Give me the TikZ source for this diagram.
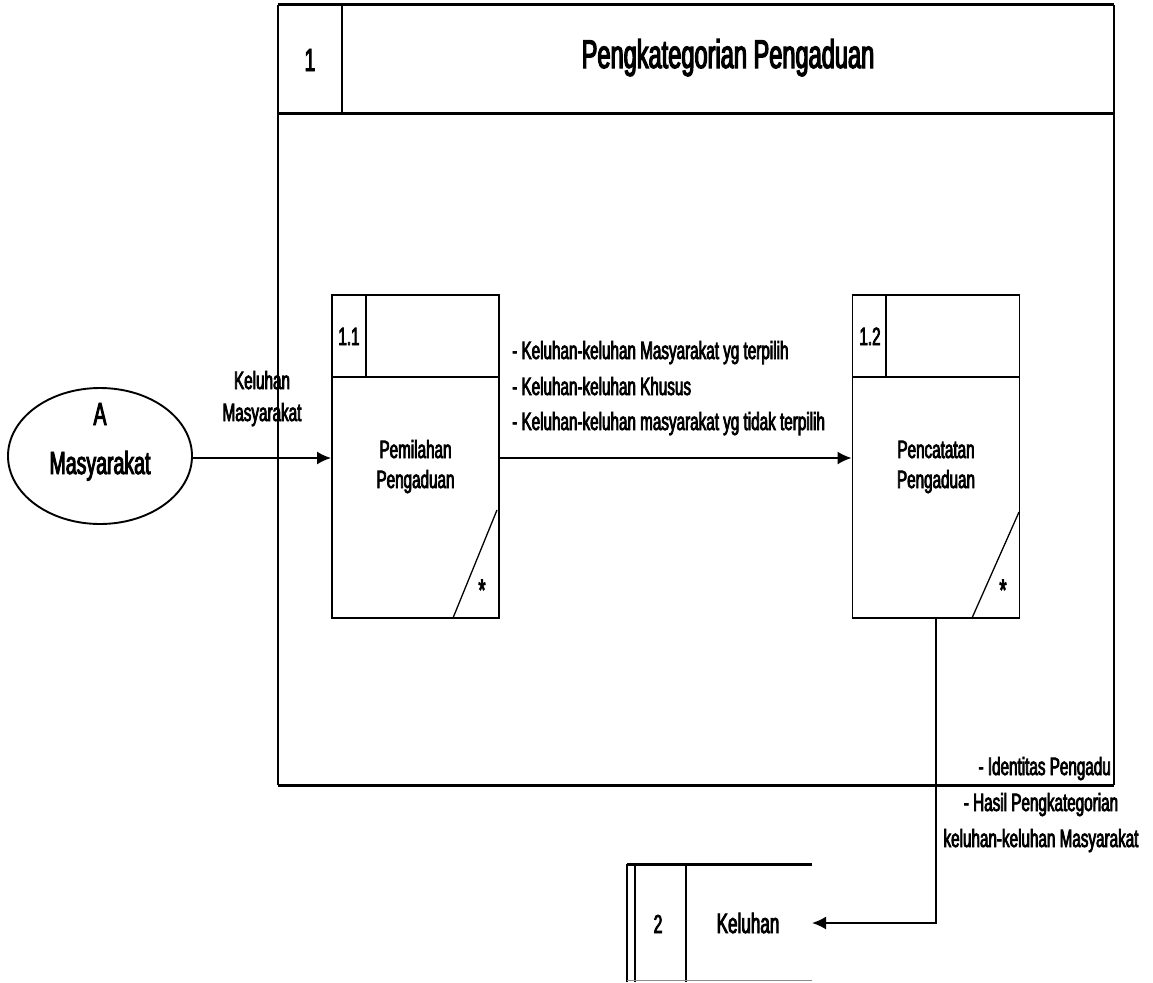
\documentclass[tikz,border=0pt]{standalone}
\usepackage{fontspec}
\setmainfont{Liberation Sans}[FakeStretch=0.61,FakeBold=3]
\newfontfamily\headfont{Liberation Sans}[FakeStretch=0.59,FakeBold=3]
\usetikzlibrary{arrows.meta,shapes.geometric,calc}
\tikzset{
  ln/.style={draw=black, line width=1.9pt},
  heavy/.style={draw=black, line width=3pt},
  flow/.style={ln, -{Latex[length=14pt,width=13pt]}},
  txt/.style={inner sep=0pt, anchor=base, font=\fontsize{25}{30}\selectfont},
  bigtxt/.style={txt, font=\fontsize{32}{38}\selectfont},
  titletxt/.style={txt, font=\headfont\fontsize{40}{46}\selectfont},
  proc/.style={ln, rectangle, minimum width=167pt, minimum height=323pt, inner sep=0pt},
  entity/.style={ln, ellipse, minimum width=184pt, minimum height=136pt, inner sep=0pt},
  star/.style={inner sep=0pt, font=\fontsize{30}{30}\selectfont}
}
\begin{document}
\begin{tikzpicture}[x=1pt,y=-1pt]
\useasboundingbox (0,0) rectangle (1153,982);

% process 1 frame with its header
\draw[ln] (278,5) -- (278,785);
\draw[ln] (1114,5) -- (1114,785);
\draw[heavy] (278,5) -- (1114,5);
\draw[heavy] (278,113) -- (1114,113);
\draw[heavy] (278,785) -- (1114,785);
\draw[ln] (342,5) -- (342,113);
\node[bigtxt] (pnum) at (310,71) {1};
\node[titletxt] (ptitle) at (728,68) {Pengkategorian Pengaduan};

% external entity
\node[entity] (ent) at (100,456) {};
\node[bigtxt] (entid) at (100,425) {A};
\node[bigtxt] (entname) at (100,474) {Masyarakat};

% sub-process 1.1
\node[proc] (p11) at (415.5,456.5) {};
\draw[ln] (332,377) -- (499,377);
\draw[ln] (366,295) -- (366,377);
\draw[line width=1.3pt] (497,510) -- (453,618);
\node[txt] (p11num) at (349,345) {1.1};
\node[txt] (p11a) at (415.5,458) {Pemilahan};
\node[txt] (p11b) at (415.5,488) {Pengaduan};
\node[star] (p11s) at (482,590) {*};

% sub-process 1.2
\node[proc] (p12) at (936,456.5) {};
\draw[ln] (853,377) -- (1019,377);
\draw[ln] (886,295) -- (886,377);
\draw[line width=1.3pt] (1019,512) -- (972,618);
\node[txt] (p12num) at (870,345) {1.2};
\node[txt] (p12a) at (936,458) {Pencatatan};
\node[txt] (p12b) at (936,488) {Pengaduan};
\node[star] (p12s) at (1003,590) {*};

% data store 2
\node[inner sep=0pt] (store) at (719.5,923) {};
\draw[heavy] (627,864) -- (812,864);
\draw[ln] (627,864) -- (627,982);
\draw[ln] (635,864) -- (635,982);
\draw[ln] (686,864) -- (686,982);
\draw[line width=1pt, black!45] (627,980) -- (812,980);
\node[bigtxt, font=\fontsize{26}{30}\selectfont] (snum) at (658,933) {2};
\node[bigtxt, font=\fontsize{28}{32}\selectfont] (sname) at (748,933) {Keluhan};
\coordinate (sin) at (812,923);

% data flows
\draw[flow] (ent.east |- 0,458) -- (p11.west |- 0,458);
\draw[flow] (p11.east |- 0,458) -- (p12.west |- 0,458);
\draw[flow] (p12.south) -- (p12.south |- sin) -- (sin);

% flow labels
\node[txt] (l1a) at (262,389) {Keluhan};
\node[txt] (l1b) at (262,421) {Masyarakat};
\node[txt, anchor=base west] (l2a) at (512,359) {- Keluhan-keluhan Masyarakat yg terpilih};
\node[txt, anchor=base west] (l2b) at (512,395) {- Keluhan-keluhan Khusus};
\node[txt, anchor=base west] (l2c) at (512,430) {- Keluhan-keluhan masyarakat yg tidak terpilih};
\node[txt, anchor=base east] (l3a) at (1111,775) {- Identitas Pengadu};
\node[txt] (l3b) at (1041,811) {- Hasil Pengkategorian};
\node[txt] (l3c) at (1041,847) {keluhan-keluhan Masyarakat};
\end{tikzpicture}
\end{document}
